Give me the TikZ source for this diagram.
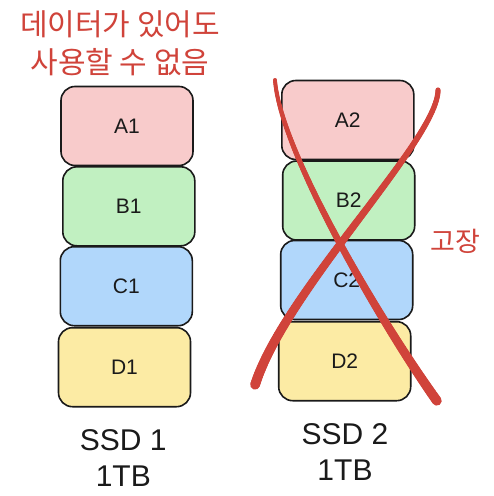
\documentclass[tikz,border=0pt]{standalone}
\usepackage{fontspec}
\setmainfont{Liberation Sans}
\newfontfamily\krfont{Noto Sans CJK KR}
\usetikzlibrary{decorations.markings}
\definecolor{cA}{HTML}{F8CBCB}
\definecolor{cB}{HTML}{C1F0C1}
\definecolor{cC}{HTML}{B1D7FB}
\definecolor{cD}{HTML}{FCEBA4}
\definecolor{ink}{HTML}{1A1A1A}
\definecolor{redx}{HTML}{D0433A}
\begin{document}
\begin{tikzpicture}[x=1pt,y=-1pt,
  blk/.style={draw=ink, line width=1.6pt, rounded corners=14pt, minimum width=132, minimum height=79, inner sep=0pt, text=ink, font=\fontsize{21}{25}\selectfont},
  redtext/.style={text=redx, inner sep=0pt, anchor=base},
  ssdlabel/.style={text=ink, align=center, inner sep=0pt, font=\fontsize{30}{36}\selectfont},
  brush/.style 2 args={decoration={markings,
      mark=between positions 0 and 1 step 0.003 with {%
        \pgfmathsetmacro\brushr{#1+(#2-#1)*\pgfkeysvalueof{/pgf/decoration/mark info/distance from start}/\pgfdecoratedpathlength}%
        \fill[redx] (0,0) circle[radius=\brushr pt];}},
      postaction={decorate}}]
\useasboundingbox (0,0) rectangle (494,496);
\fill[white] (0,0) rectangle (494,496);
% left SSD
\node[blk, fill=cA] (a1) at (127,126) {A1};
\node[blk, fill=cB] (b1) at (128.8,206.3) {B1};
\node[blk, fill=cC] (c1) at (126.3,286.2) {C1};
\node[blk, fill=cD] (d1) at (124.5,367.2) {D1};
% right SSD
\node[blk, fill=cA] (a2) at (347.8,120) {A2};
\node[blk, fill=cB] (b2) at (348.7,200.5) {B2};
\node[blk, fill=cC] (c2) at (346.7,280) {C2};
\node[blk, fill=cD] (d2) at (344.7,361.2) {D2};
% texts
\node[redtext, font=\krfont\fontsize{30}{36}\selectfont] (title1) at (120,35.5) {데이터가 있어도};
\node[redtext, font=\krfont\fontsize{30}{36}\selectfont] (title2) at (120,73.5) {사용할 수 없음};
\node[redtext, font=\krfont\fontsize{27}{32}\selectfont] (broken) at (455,251.5) {고장};
\node[ssdlabel] (ssd1) at (123.3,458) {SSD 1\\1TB};
\node[ssdlabel] (ssd2) at (345,452.5) {SSD 2\\1TB};
% red X (brush strokes getting thicker downwards)
\coordinate (s1a) at (275,80);
\coordinate (s1b) at (437,401);
\coordinate (s2a) at (438,90);
\coordinate (s2b) at (255,385);
\path[brush={2.0}{5.0}] (s1a) .. controls (280,150) and (378,318) .. (s1b);
\path[brush={2.6}{5.0}] (s2a) .. controls (438,140) and (285,290) .. (s2b);
\end{tikzpicture}
\end{document}
